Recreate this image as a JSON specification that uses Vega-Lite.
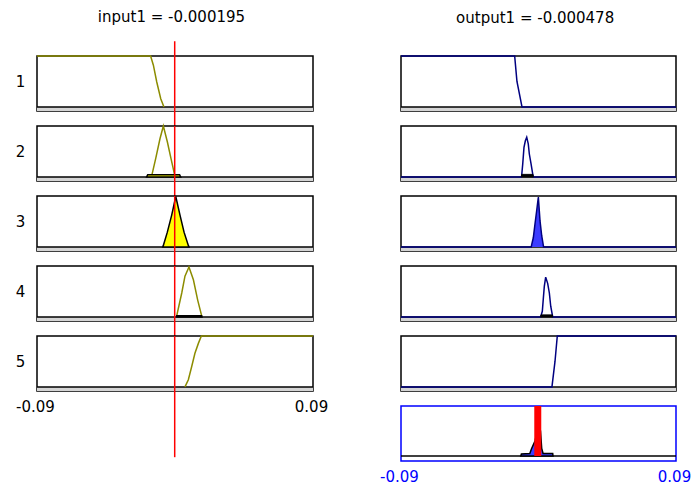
{
  "$schema": "https://vega.github.io/schema/vega-lite/v6.json",
  "padding": {"top": 9, "left": 14, "right": 0, "bottom": 0},
  "background": "white",
  "config": {
    "font": "DejaVu Sans",
    "view": {"stroke": "black", "strokeWidth": 1.5},
    "title": {"fontSize": 15, "fontWeight": "normal", "font": "DejaVu Sans", "color": "black"}
  },
  "datasets": {
    "mf": [
      {"g": "in1", "x": -0.09, "y": 1}, {"g": "in1", "x": -0.0159, "y": 1}, {"g": "in1", "x": -0.0141, "y": 0.82}, {"g": "in1", "x": -0.0119, "y": 0.49}, {"g": "in1", "x": -0.0093, "y": 0.16}, {"g": "in1", "x": -0.0072, "y": 0},
      {"g": "in2", "x": -0.0152, "y": 0.02}, {"g": "in2", "x": -0.0126, "y": 0.36}, {"g": "in2", "x": -0.0098, "y": 0.75}, {"g": "in2", "x": -0.0076, "y": 1}, {"g": "in2", "x": -0.005, "y": 0.69}, {"g": "in2", "x": -0.0026, "y": 0.36}, {"g": "in2", "x": -0.0004, "y": 0.06},
      {"g": "in2f", "x": -0.0185, "y": 0}, {"g": "in2f", "x": -0.0178, "y": 0.045}, {"g": "in2f", "x": 0.003, "y": 0.045}, {"g": "in2f", "x": 0.0037, "y": 0},
      {"g": "in3f", "x": -0.008, "y": 0}, {"g": "in3f", "x": -0.0076, "y": 0.03}, {"g": "in3f", "x": -0.005, "y": 0.29}, {"g": "in3f", "x": -0.0022, "y": 0.62}, {"g": "in3f", "x": 0.0005, "y": 0.99}, {"g": "in3f", "x": 0.0033, "y": 0.62}, {"g": "in3f", "x": 0.0059, "y": 0.29}, {"g": "in3f", "x": 0.0087, "y": 0.03}, {"g": "in3f", "x": 0.0091, "y": 0},
      {"g": "in4", "x": 0.0011, "y": 0.02}, {"g": "in4", "x": 0.0044, "y": 0.47}, {"g": "in4", "x": 0.0065, "y": 0.8}, {"g": "in4", "x": 0.0091, "y": 0.98}, {"g": "in4", "x": 0.012, "y": 0.73}, {"g": "in4", "x": 0.0148, "y": 0.33}, {"g": "in4", "x": 0.0174, "y": 0.02},
      {"g": "in4f", "x": 0.0009, "y": 0}, {"g": "in4f", "x": 0.0011, "y": 0.025}, {"g": "in4f", "x": 0.0174, "y": 0.025}, {"g": "in4f", "x": 0.0176, "y": 0},
      {"g": "in5", "x": 0.0065, "y": 0}, {"g": "in5", "x": 0.0087, "y": 0.14}, {"g": "in5", "x": 0.0109, "y": 0.4}, {"g": "in5", "x": 0.013, "y": 0.66}, {"g": "in5", "x": 0.0153, "y": 0.86}, {"g": "in5", "x": 0.0172, "y": 1}, {"g": "in5", "x": 0.09, "y": 1},
      {"g": "out1", "x": -0.09, "y": 1}, {"g": "out1", "x": -0.0156, "y": 1}, {"g": "out1", "x": -0.0141, "y": 0.5}, {"g": "out1", "x": -0.0108, "y": 0}, {"g": "out1", "x": 0.09, "y": 0},
      {"g": "out2", "x": -0.09, "y": 0}, {"g": "out2", "x": -0.0112, "y": 0}, {"g": "out2", "x": -0.011, "y": 0.03}, {"g": "out2", "x": -0.0103, "y": 0.26}, {"g": "out2", "x": -0.0095, "y": 0.58}, {"g": "out2", "x": -0.0086, "y": 0.71}, {"g": "out2", "x": -0.0077, "y": 0.78}, {"g": "out2", "x": -0.0067, "y": 0.65}, {"g": "out2", "x": -0.006, "y": 0.45}, {"g": "out2", "x": -0.0049, "y": 0.26}, {"g": "out2", "x": -0.0038, "y": 0.06}, {"g": "out2", "x": -0.0034, "y": 0}, {"g": "out2", "x": 0.09, "y": 0},
      {"g": "out2f", "x": -0.0112, "y": 0}, {"g": "out2f", "x": -0.011, "y": 0.05}, {"g": "out2f", "x": -0.0036, "y": 0.05}, {"g": "out2f", "x": -0.0034, "y": 0},
      {"g": "out3", "x": -0.09, "y": 0}, {"g": "out3", "x": -0.0047, "y": 0}, {"g": "out3", "x": -0.0045, "y": 0.04}, {"g": "out3", "x": -0.0034, "y": 0.18}, {"g": "out3", "x": -0.0023, "y": 0.45}, {"g": "out3", "x": -0.0012, "y": 0.71}, {"g": "out3", "x": -0.0001, "y": 0.98}, {"g": "out3", "x": 0.001, "y": 0.51}, {"g": "out3", "x": 0.0021, "y": 0.22}, {"g": "out3", "x": 0.0031, "y": 0.04}, {"g": "out3", "x": 0.0033, "y": 0}, {"g": "out3", "x": 0.09, "y": 0},
      {"g": "out3f", "x": -0.0047, "y": 0}, {"g": "out3f", "x": -0.0045, "y": 0.04}, {"g": "out3f", "x": -0.0034, "y": 0.18}, {"g": "out3f", "x": -0.0023, "y": 0.45}, {"g": "out3f", "x": -0.0012, "y": 0.71}, {"g": "out3f", "x": -0.0001, "y": 0.98}, {"g": "out3f", "x": 0.001, "y": 0.51}, {"g": "out3f", "x": 0.0021, "y": 0.22}, {"g": "out3f", "x": 0.0031, "y": 0.04}, {"g": "out3f", "x": 0.0033, "y": 0},
      {"g": "out4", "x": -0.09, "y": 0}, {"g": "out4", "x": 0.0014, "y": 0}, {"g": "out4", "x": 0.0025, "y": 0.11}, {"g": "out4", "x": 0.0031, "y": 0.34}, {"g": "out4", "x": 0.0038, "y": 0.6}, {"g": "out4", "x": 0.0047, "y": 0.78}, {"g": "out4", "x": 0.006, "y": 0.66}, {"g": "out4", "x": 0.0071, "y": 0.47}, {"g": "out4", "x": 0.008, "y": 0.21}, {"g": "out4", "x": 0.0093, "y": 0}, {"g": "out4", "x": 0.09, "y": 0},
      {"g": "out4f", "x": 0.0014, "y": 0}, {"g": "out4f", "x": 0.0016, "y": 0.04}, {"g": "out4f", "x": 0.0091, "y": 0.04}, {"g": "out4f", "x": 0.0093, "y": 0},
      {"g": "out5", "x": -0.09, "y": 0}, {"g": "out5", "x": 0.0088, "y": 0}, {"g": "out5", "x": 0.0108, "y": 0.5}, {"g": "out5", "x": 0.0123, "y": 1}, {"g": "out5", "x": 0.09, "y": 1},
      {"g": "agg", "x": -0.0116, "y": 0}, {"g": "agg", "x": -0.0112, "y": 0.04}, {"g": "agg", "x": -0.0057, "y": 0.05}, {"g": "agg", "x": -0.0045, "y": 0.15}, {"g": "agg", "x": -0.0023, "y": 0.3}, {"g": "agg", "x": 0.0003, "y": 0.65}, {"g": "agg", "x": 0.0013, "y": 0.5}, {"g": "agg", "x": 0.0021, "y": 0.15}, {"g": "agg", "x": 0.003, "y": 0.05}, {"g": "agg", "x": 0.0093, "y": 0.05}, {"g": "agg", "x": 0.0095, "y": 0}
    ]
  },
  "spacing": 49,
  "hconcat": [
    {
      "bounds": "flush",
      "spacing": 15,
      "title": {"text": "input1 = -0.000195", "offset": 15, "anchor": "middle"},
      "vconcat": [
        {
          "width": 276, "height": 55,
          "resolve": {"axis": {"x": "independent", "y": "independent"}},
          "layer": [
            {"data": {"values": [{}]}, "mark": {"type": "rect", "fill": "#d4d4d4"}, "encoding": {"x": {"datum": -0.09, "type": "quantitative", "scale": {"domain": [-0.09, 0.09], "nice": false, "zero": false}, "axis": null}, "x2": {"datum": 0.09}, "y": {"datum": -0.08, "type": "quantitative", "scale": {"domain": [-0.08, 1], "nice": false, "zero": false}, "axis": null}, "y2": {"datum": 0}}},
            {"data": {"values": [{}]}, "mark": {"type": "rule", "color": "black", "strokeWidth": 1.5}, "encoding": {"x": {"datum": -0.09, "type": "quantitative", "axis": null}, "x2": {"datum": 0.09}, "y": {"datum": 0, "type": "quantitative", "axis": null}}},
            {"data": {"name": "mf"}, "transform": [{"filter": "datum.g == 'in1'"}], "mark": {"type": "line", "color": "#8c8c00", "strokeWidth": 1.5}, "encoding": {"x": {"field": "x", "type": "quantitative", "axis": null}, "y": {"field": "y", "type": "quantitative", "axis": {"title": "1", "titleAngle": 0, "titleX": -17, "titleY": 25, "titleAlign": "center", "titleBaseline": "middle", "labels": false, "ticks": false, "domain": false, "grid": false, "titleFontSize": 15, "titleFontWeight": "normal", "titleFont": "DejaVu Sans", "titleColor": "black"}}}},
            {"data": {"values": [{}]}, "mark": {"type": "rule", "color": "#ff0000", "strokeWidth": 1.5}, "encoding": {"x": {"datum": -0.000195, "type": "quantitative", "axis": null}, "y": {"datum": 1.29, "type": "quantitative", "axis": null}, "y2": {"datum": -0.38}}}
          ]
        },
        {
          "width": 276, "height": 55,
          "resolve": {"axis": {"x": "independent", "y": "independent"}},
          "layer": [
            {"data": {"values": [{}]}, "mark": {"type": "rect", "fill": "#d4d4d4"}, "encoding": {"x": {"datum": -0.09, "type": "quantitative", "scale": {"domain": [-0.09, 0.09], "nice": false, "zero": false}, "axis": null}, "x2": {"datum": 0.09}, "y": {"datum": -0.08, "type": "quantitative", "scale": {"domain": [-0.08, 1], "nice": false, "zero": false}, "axis": null}, "y2": {"datum": 0}}},
            {"data": {"values": [{}]}, "mark": {"type": "rule", "color": "black", "strokeWidth": 1.5}, "encoding": {"x": {"datum": -0.09, "type": "quantitative", "axis": null}, "x2": {"datum": 0.09}, "y": {"datum": 0, "type": "quantitative", "axis": null}}},
            {"data": {"name": "mf"}, "transform": [{"filter": "datum.g == 'in2'"}], "mark": {"type": "line", "color": "#8c8c00", "strokeWidth": 1.5}, "encoding": {"x": {"field": "x", "type": "quantitative", "axis": null}, "y": {"field": "y", "type": "quantitative", "axis": {"title": "2", "titleAngle": 0, "titleX": -17, "titleY": 25, "titleAlign": "center", "titleBaseline": "middle", "labels": false, "ticks": false, "domain": false, "grid": false, "titleFontSize": 15, "titleFontWeight": "normal", "titleFont": "DejaVu Sans", "titleColor": "black"}}}},
            {"data": {"name": "mf"}, "transform": [{"filter": "datum.g == 'in2f'"}], "mark": {"type": "area", "fill": "#ffff00", "stroke": "black", "strokeWidth": 1.5}, "encoding": {"x": {"field": "x", "type": "quantitative", "axis": null}, "y": {"field": "y", "type": "quantitative", "axis": null}, "y2": {"datum": 0}}},
            {"data": {"values": [{}]}, "mark": {"type": "rule", "color": "#ff0000", "strokeWidth": 1.5}, "encoding": {"x": {"datum": -0.000195, "type": "quantitative", "axis": null}, "y": {"datum": 1, "type": "quantitative", "axis": null}, "y2": {"datum": -0.38}}}
          ]
        },
        {
          "width": 276, "height": 55,
          "resolve": {"axis": {"x": "independent", "y": "independent"}},
          "layer": [
            {"data": {"values": [{}]}, "mark": {"type": "rect", "fill": "#d4d4d4"}, "encoding": {"x": {"datum": -0.09, "type": "quantitative", "scale": {"domain": [-0.09, 0.09], "nice": false, "zero": false}, "axis": null}, "x2": {"datum": 0.09}, "y": {"datum": -0.08, "type": "quantitative", "scale": {"domain": [-0.08, 1], "nice": false, "zero": false}, "axis": null}, "y2": {"datum": 0}}},
            {"data": {"values": [{}]}, "mark": {"type": "rule", "color": "black", "strokeWidth": 1.5}, "encoding": {"x": {"datum": -0.09, "type": "quantitative", "axis": null}, "x2": {"datum": 0.09}, "y": {"datum": 0, "type": "quantitative", "axis": null}}},
            {"data": {"name": "mf"}, "transform": [{"filter": "datum.g == 'in3f'"}], "mark": {"type": "area", "fill": "#ffff00", "stroke": "black", "strokeWidth": 1.5}, "encoding": {"x": {"field": "x", "type": "quantitative", "axis": null}, "y": {"field": "y", "type": "quantitative", "axis": {"title": "3", "titleAngle": 0, "titleX": -17, "titleY": 25, "titleAlign": "center", "titleBaseline": "middle", "labels": false, "ticks": false, "domain": false, "grid": false, "titleFontSize": 15, "titleFontWeight": "normal", "titleFont": "DejaVu Sans", "titleColor": "black"}}, "y2": {"datum": 0}}},
            {"data": {"values": [{}]}, "mark": {"type": "rule", "color": "#ff0000", "strokeWidth": 1.5}, "encoding": {"x": {"datum": -0.000195, "type": "quantitative", "axis": null}, "y": {"datum": 1, "type": "quantitative", "axis": null}, "y2": {"datum": -0.38}}}
          ]
        },
        {
          "width": 276, "height": 55,
          "resolve": {"axis": {"x": "independent", "y": "independent"}},
          "layer": [
            {"data": {"values": [{}]}, "mark": {"type": "rect", "fill": "#d4d4d4"}, "encoding": {"x": {"datum": -0.09, "type": "quantitative", "scale": {"domain": [-0.09, 0.09], "nice": false, "zero": false}, "axis": null}, "x2": {"datum": 0.09}, "y": {"datum": -0.08, "type": "quantitative", "scale": {"domain": [-0.08, 1], "nice": false, "zero": false}, "axis": null}, "y2": {"datum": 0}}},
            {"data": {"values": [{}]}, "mark": {"type": "rule", "color": "black", "strokeWidth": 1.5}, "encoding": {"x": {"datum": -0.09, "type": "quantitative", "axis": null}, "x2": {"datum": 0.09}, "y": {"datum": 0, "type": "quantitative", "axis": null}}},
            {"data": {"name": "mf"}, "transform": [{"filter": "datum.g == 'in4'"}], "mark": {"type": "line", "color": "#8c8c00", "strokeWidth": 1.5}, "encoding": {"x": {"field": "x", "type": "quantitative", "axis": null}, "y": {"field": "y", "type": "quantitative", "axis": {"title": "4", "titleAngle": 0, "titleX": -17, "titleY": 25, "titleAlign": "center", "titleBaseline": "middle", "labels": false, "ticks": false, "domain": false, "grid": false, "titleFontSize": 15, "titleFontWeight": "normal", "titleFont": "DejaVu Sans", "titleColor": "black"}}}},
            {"data": {"name": "mf"}, "transform": [{"filter": "datum.g == 'in4f'"}], "mark": {"type": "area", "fill": "#ffff00", "stroke": "black", "strokeWidth": 1.5}, "encoding": {"x": {"field": "x", "type": "quantitative", "axis": null}, "y": {"field": "y", "type": "quantitative", "axis": null}, "y2": {"datum": 0}}},
            {"data": {"values": [{}]}, "mark": {"type": "rule", "color": "#ff0000", "strokeWidth": 1.5}, "encoding": {"x": {"datum": -0.000195, "type": "quantitative", "axis": null}, "y": {"datum": 1, "type": "quantitative", "axis": null}, "y2": {"datum": -0.38}}}
          ]
        },
        {
          "width": 276, "height": 55,
          "resolve": {"axis": {"x": "independent", "y": "independent"}},
          "layer": [
            {"data": {"values": [{}]}, "mark": {"type": "rect", "fill": "#d4d4d4"}, "encoding": {"x": {"datum": -0.09, "type": "quantitative", "scale": {"domain": [-0.09, 0.09], "nice": false, "zero": false}, "axis": null}, "x2": {"datum": 0.09}, "y": {"datum": -0.08, "type": "quantitative", "scale": {"domain": [-0.08, 1], "nice": false, "zero": false}, "axis": null}, "y2": {"datum": 0}}},
            {"data": {"values": [{}]}, "mark": {"type": "rule", "color": "black", "strokeWidth": 1.5}, "encoding": {"x": {"datum": -0.09, "type": "quantitative", "axis": null}, "x2": {"datum": 0.09}, "y": {"datum": 0, "type": "quantitative", "axis": null}}},
            {"data": {"name": "mf"}, "transform": [{"filter": "datum.g == 'in5'"}], "mark": {"type": "line", "color": "#8c8c00", "strokeWidth": 1.5}, "encoding": {"x": {"field": "x", "type": "quantitative", "axis": {"values": [-0.09, 0.09], "labelExpr": "datum.value < 0 ? '-0.09' : '0.09'", "labelFlush": false, "ticks": false, "domain": false, "grid": false, "title": null, "labelPadding": 8, "labelFontSize": 15, "labelFont": "DejaVu Sans", "labelColor": "black", "labelOffset": -2}}, "y": {"field": "y", "type": "quantitative", "axis": {"title": "5", "titleAngle": 0, "titleX": -17, "titleY": 25, "titleAlign": "center", "titleBaseline": "middle", "labels": false, "ticks": false, "domain": false, "grid": false, "titleFontSize": 15, "titleFontWeight": "normal", "titleFont": "DejaVu Sans", "titleColor": "black"}}}},
            {"data": {"values": [{}]}, "mark": {"type": "rule", "color": "#ff0000", "strokeWidth": 1.5}, "encoding": {"x": {"datum": -0.000195, "type": "quantitative", "axis": null}, "y": {"datum": 1, "type": "quantitative", "axis": null}, "y2": {"datum": -1.38}}}
          ]
        }
      ]
    },
    {
      "bounds": "flush",
      "spacing": 15,
      "title": {"text": "output1 = -0.000478", "offset": 26, "anchor": "middle"},
      "vconcat": [
        {
          "width": 275, "height": 55,
          "layer": [
            {"data": {"values": [{}]}, "mark": {"type": "rect", "fill": "#d4d4d4"}, "encoding": {"x": {"datum": -0.09, "type": "quantitative", "scale": {"domain": [-0.09, 0.09], "nice": false, "zero": false}, "axis": null}, "x2": {"datum": 0.09}, "y": {"datum": -0.08, "type": "quantitative", "scale": {"domain": [-0.08, 1], "nice": false, "zero": false}, "axis": null}, "y2": {"datum": 0}}},
            {"data": {"values": [{}]}, "mark": {"type": "rule", "color": "black", "strokeWidth": 1.5}, "encoding": {"x": {"datum": -0.09, "type": "quantitative", "axis": null}, "x2": {"datum": 0.09}, "y": {"datum": 0, "type": "quantitative", "axis": null}}},
            {"data": {"name": "mf"}, "transform": [{"filter": "datum.g == 'out1'"}], "mark": {"type": "line", "color": "#000080", "strokeWidth": 1.5}, "encoding": {"x": {"field": "x", "type": "quantitative", "axis": null}, "y": {"field": "y", "type": "quantitative", "axis": null}}}
          ]
        },
        {
          "width": 275, "height": 55,
          "layer": [
            {"data": {"values": [{}]}, "mark": {"type": "rect", "fill": "#d4d4d4"}, "encoding": {"x": {"datum": -0.09, "type": "quantitative", "scale": {"domain": [-0.09, 0.09], "nice": false, "zero": false}, "axis": null}, "x2": {"datum": 0.09}, "y": {"datum": -0.08, "type": "quantitative", "scale": {"domain": [-0.08, 1], "nice": false, "zero": false}, "axis": null}, "y2": {"datum": 0}}},
            {"data": {"values": [{}]}, "mark": {"type": "rule", "color": "black", "strokeWidth": 1.5}, "encoding": {"x": {"datum": -0.09, "type": "quantitative", "axis": null}, "x2": {"datum": 0.09}, "y": {"datum": 0, "type": "quantitative", "axis": null}}},
            {"data": {"name": "mf"}, "transform": [{"filter": "datum.g == 'out2'"}], "mark": {"type": "line", "color": "#000080", "strokeWidth": 1.5}, "encoding": {"x": {"field": "x", "type": "quantitative", "axis": null}, "y": {"field": "y", "type": "quantitative", "axis": null}}},
            {"data": {"name": "mf"}, "transform": [{"filter": "datum.g == 'out2f'"}], "mark": {"type": "area", "fill": "black", "stroke": "black", "strokeWidth": 1}, "encoding": {"x": {"field": "x", "type": "quantitative", "axis": null}, "y": {"field": "y", "type": "quantitative", "axis": null}, "y2": {"datum": 0}}}
          ]
        },
        {
          "width": 275, "height": 55,
          "layer": [
            {"data": {"values": [{}]}, "mark": {"type": "rect", "fill": "#d4d4d4"}, "encoding": {"x": {"datum": -0.09, "type": "quantitative", "scale": {"domain": [-0.09, 0.09], "nice": false, "zero": false}, "axis": null}, "x2": {"datum": 0.09}, "y": {"datum": -0.08, "type": "quantitative", "scale": {"domain": [-0.08, 1], "nice": false, "zero": false}, "axis": null}, "y2": {"datum": 0}}},
            {"data": {"values": [{}]}, "mark": {"type": "rule", "color": "black", "strokeWidth": 1.5}, "encoding": {"x": {"datum": -0.09, "type": "quantitative", "axis": null}, "x2": {"datum": 0.09}, "y": {"datum": 0, "type": "quantitative", "axis": null}}},
            {"data": {"name": "mf"}, "transform": [{"filter": "datum.g == 'out3f'"}], "mark": {"type": "area", "fill": "#3c3cff"}, "encoding": {"x": {"field": "x", "type": "quantitative", "axis": null}, "y": {"field": "y", "type": "quantitative", "axis": null}, "y2": {"datum": 0}}},
            {"data": {"name": "mf"}, "transform": [{"filter": "datum.g == 'out3'"}], "mark": {"type": "line", "color": "#000080", "strokeWidth": 1.5}, "encoding": {"x": {"field": "x", "type": "quantitative", "axis": null}, "y": {"field": "y", "type": "quantitative", "axis": null}}}
          ]
        },
        {
          "width": 275, "height": 55,
          "layer": [
            {"data": {"values": [{}]}, "mark": {"type": "rect", "fill": "#d4d4d4"}, "encoding": {"x": {"datum": -0.09, "type": "quantitative", "scale": {"domain": [-0.09, 0.09], "nice": false, "zero": false}, "axis": null}, "x2": {"datum": 0.09}, "y": {"datum": -0.08, "type": "quantitative", "scale": {"domain": [-0.08, 1], "nice": false, "zero": false}, "axis": null}, "y2": {"datum": 0}}},
            {"data": {"values": [{}]}, "mark": {"type": "rule", "color": "black", "strokeWidth": 1.5}, "encoding": {"x": {"datum": -0.09, "type": "quantitative", "axis": null}, "x2": {"datum": 0.09}, "y": {"datum": 0, "type": "quantitative", "axis": null}}},
            {"data": {"name": "mf"}, "transform": [{"filter": "datum.g == 'out4'"}], "mark": {"type": "line", "color": "#000080", "strokeWidth": 1.5}, "encoding": {"x": {"field": "x", "type": "quantitative", "axis": null}, "y": {"field": "y", "type": "quantitative", "axis": null}}},
            {"data": {"name": "mf"}, "transform": [{"filter": "datum.g == 'out4f'"}], "mark": {"type": "area", "fill": "black", "stroke": "black", "strokeWidth": 1}, "encoding": {"x": {"field": "x", "type": "quantitative", "axis": null}, "y": {"field": "y", "type": "quantitative", "axis": null}, "y2": {"datum": 0}}}
          ]
        },
        {
          "width": 275, "height": 55,
          "layer": [
            {"data": {"values": [{}]}, "mark": {"type": "rect", "fill": "#d4d4d4"}, "encoding": {"x": {"datum": -0.09, "type": "quantitative", "scale": {"domain": [-0.09, 0.09], "nice": false, "zero": false}, "axis": null}, "x2": {"datum": 0.09}, "y": {"datum": -0.08, "type": "quantitative", "scale": {"domain": [-0.08, 1], "nice": false, "zero": false}, "axis": null}, "y2": {"datum": 0}}},
            {"data": {"values": [{}]}, "mark": {"type": "rule", "color": "black", "strokeWidth": 1.5}, "encoding": {"x": {"datum": -0.09, "type": "quantitative", "axis": null}, "x2": {"datum": 0.09}, "y": {"datum": 0, "type": "quantitative", "axis": null}}},
            {"data": {"name": "mf"}, "transform": [{"filter": "datum.g == 'out5'"}], "mark": {"type": "line", "color": "#000080", "strokeWidth": 1.5}, "encoding": {"x": {"field": "x", "type": "quantitative", "axis": null}, "y": {"field": "y", "type": "quantitative", "axis": null}}}
          ]
        },
        {
          "width": 275, "height": 55,
          "view": {"stroke": "#0000ff", "strokeWidth": 1.5},
          "resolve": {"axis": {"x": "independent", "y": "independent"}},
          "layer": [
            {"data": {"values": [{}]}, "mark": {"type": "rule", "color": "black", "strokeWidth": 1.5}, "encoding": {"x": {"datum": -0.09, "type": "quantitative", "scale": {"domain": [-0.09, 0.09], "nice": false, "zero": false}, "axis": null}, "x2": {"datum": 0.09}, "y": {"datum": 0, "type": "quantitative", "scale": {"domain": [-0.1, 1], "nice": false, "zero": false}, "axis": null}}},
            {"data": {"name": "mf"}, "transform": [{"filter": "datum.g == 'agg'"}], "mark": {"type": "area", "fill": "#3c3cff", "stroke": "black", "strokeWidth": 1.5}, "encoding": {"x": {"field": "x", "type": "quantitative", "axis": {"values": [-0.09, 0.09], "labelExpr": "datum.value < 0 ? '-0.09' : '0.09'", "labelFlush": false, "ticks": false, "domain": false, "grid": false, "title": null, "labelPadding": 8, "labelFontSize": 15, "labelFont": "DejaVu Sans", "labelColor": "#0000ff", "labelOffset": -2}}, "y": {"field": "y", "type": "quantitative", "axis": null}, "y2": {"datum": 0}}},
            {"data": {"values": [{}]}, "mark": {"type": "rule", "color": "#ff0000", "strokeWidth": 7, "strokeCap": "butt"}, "encoding": {"x": {"datum": -0.000478, "type": "quantitative", "axis": null}, "y": {"datum": 1, "type": "quantitative", "axis": null}, "y2": {"datum": 0}}}
          ]
        }
      ]
    }
  ]
}
